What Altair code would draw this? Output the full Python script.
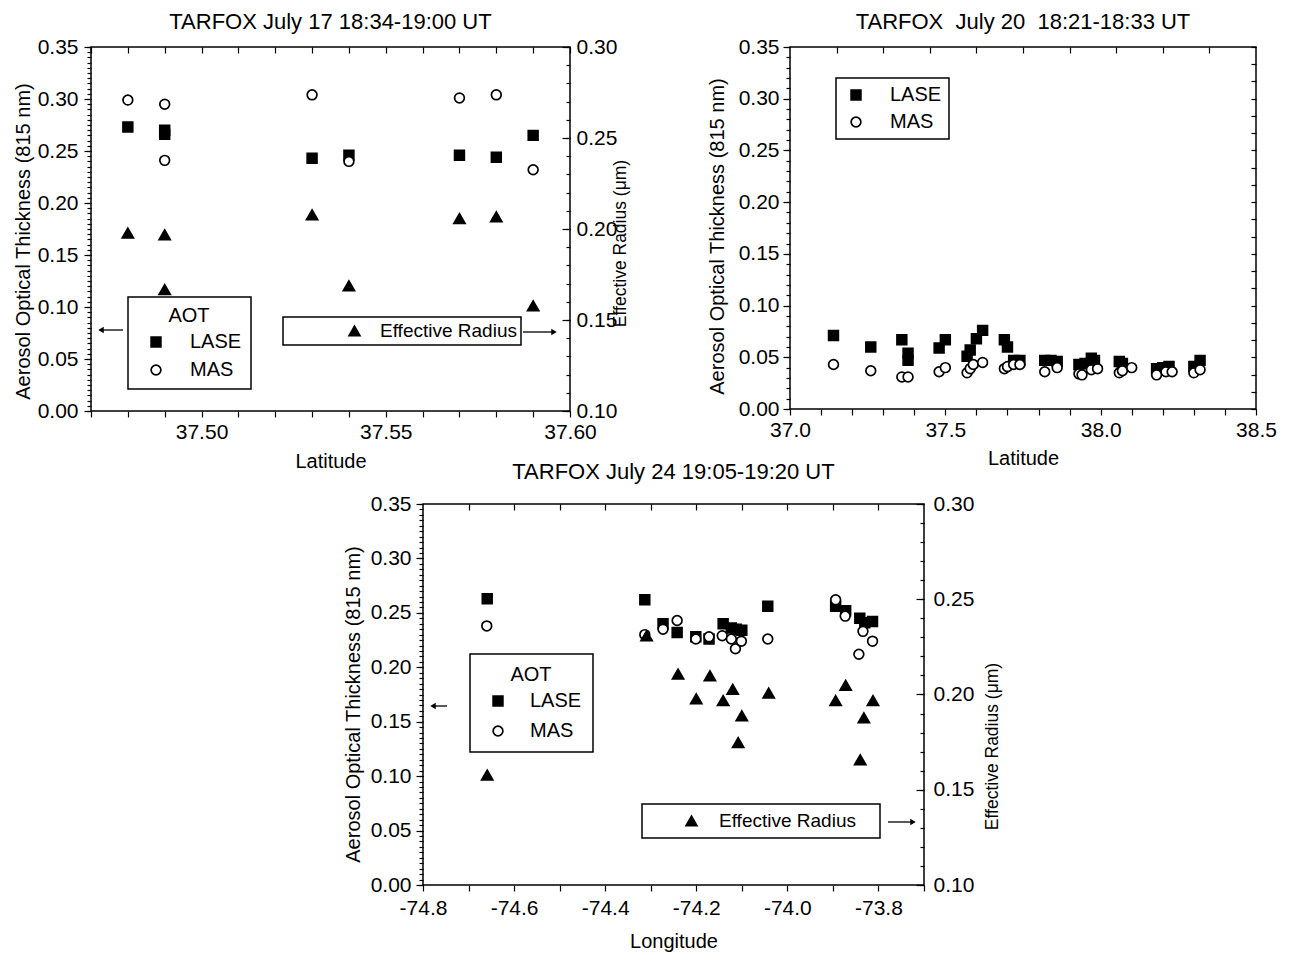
import altair as alt
import pandas as pd

FONT = "Liberation Sans"
MINUS = "\u2212"

# ---------------- TARFOX July 17 (latitude) ----------------
lat17_lase = [37.48, 37.49, 37.49, 37.53, 37.54, 37.57, 37.58, 37.59]
aot17_lase = [0.273, 0.270, 0.266, 0.243, 0.246, 0.246, 0.244, 0.265]
lat17_mas = [37.48, 37.49, 37.49, 37.53, 37.54, 37.57, 37.58, 37.59]
aot17_mas = [0.299, 0.295, 0.241, 0.304, 0.240, 0.301, 0.304, 0.232]
lat17_er = [37.48, 37.49, 37.49, 37.53, 37.54, 37.57, 37.58, 37.59]
er17 = [0.198, 0.197, 0.167, 0.208, 0.169, 0.206, 0.207, 0.158]

# ---------------- TARFOX July 20 (latitude) ----------------
lat20_lase = [37.14, 37.26, 37.36, 37.38, 37.38, 37.48, 37.50, 37.57, 37.58, 37.60,
              37.62, 37.69, 37.70, 37.72, 37.74, 37.82, 37.84, 37.86, 37.93, 37.95,
              37.97, 37.98, 38.06, 38.07, 38.18, 38.20, 38.22, 38.30, 38.32]
aot20_lase = [0.071, 0.060, 0.067, 0.054, 0.047, 0.059, 0.067, 0.051, 0.057, 0.068,
              0.076, 0.067, 0.060, 0.047, 0.047, 0.047, 0.047, 0.046, 0.043, 0.044,
              0.049, 0.047, 0.046, 0.044, 0.039, 0.040, 0.041, 0.041, 0.047]
lat20_mas = [37.14, 37.26, 37.36, 37.38, 37.48, 37.50, 37.57, 37.58, 37.59, 37.62,
             37.69, 37.70, 37.72, 37.74, 37.82, 37.86, 37.93, 37.94, 37.97, 37.99,
             38.06, 38.07, 38.10, 38.18, 38.21, 38.23, 38.30, 38.32]
aot20_mas = [0.043, 0.037, 0.031, 0.031, 0.036, 0.040, 0.035, 0.039, 0.043, 0.045,
             0.039, 0.041, 0.043, 0.043, 0.036, 0.040, 0.034, 0.033, 0.038, 0.039,
             0.035, 0.037, 0.040, 0.033, 0.036, 0.036, 0.035, 0.038]

# ---------------- TARFOX July 24 (longitude) ----------------
lon24_lase = [-74.659, -74.313, -74.273, -74.242, -74.201, -74.172, -74.141, -74.123,
              -74.112, -74.100, -74.043, -73.894, -73.872, -73.841, -73.830, -73.813]
aot24_lase = [0.263, 0.262, 0.240, 0.232, 0.228, 0.226, 0.240, 0.236,
              0.235, 0.234, 0.256, 0.256, 0.252, 0.245, 0.241, 0.242]
lon24_mas = [-74.660, -74.313, -74.273, -74.242, -74.201, -74.172, -74.143, -74.123,
             -74.114, -74.101, -74.043, -73.894, -73.873, -73.843, -73.834, -73.813]
aot24_mas = [0.238, 0.230, 0.235, 0.243, 0.226, 0.228, 0.229, 0.226,
             0.217, 0.224, 0.226, 0.262, 0.247, 0.212, 0.233, 0.224]
lon24_er = [-74.659, -74.309, -74.240, -74.200, -74.170, -74.141, -74.120, -74.100,
            -74.108, -74.041, -73.894, -73.872, -73.812, -73.832, -73.840]
er24 = [0.158, 0.231, 0.211, 0.198, 0.210, 0.197, 0.203, 0.189,
        0.175, 0.201, 0.197, 0.205, 0.197, 0.188, 0.166]

instruments = ["LASE", "MAS"]
er_label = "Effective Radius"
aot_title = "Aerosol Optical Thickness (815 nm)"
er_title = "Effective Radius (\u03bcm)"
NB = "\u00a0"


def ticks(start, stop, step):
    n = int(round((stop - start) / step))
    return [round(start + i * step, 5) for i in range(n + 1)]


def aot_frame(xs, ys_lase, xm, ys_mas):
    return pd.DataFrame({
        "x": xs + xm,
        "aot": ys_lase + ys_mas,
        "inst": ["LASE"] * len(xs) + ["MAS"] * len(xm),
    })


def er_frame(xs, ys):
    return pd.DataFrame({"x": xs, "er": ys, "lab": [er_label] * len(xs)})


def aot_legend(lx, ly, title, pad, symoff, rowpad, laboff):
    kw = dict(orient="none", legendX=lx, legendY=ly, strokeColor="black",
              padding=pad, symbolOffset=symoff, labelOffset=laboff, rowPadding=rowpad,
              symbolSize=95, symbolStrokeColor="black", symbolStrokeWidth=1.7,
              symbolFillColor=alt.ExprRef("datum.value == 'LASE' ? 'black' : 'white'"),
              labelFontSize=20, titleFontSize=20, titleAnchor="middle",
              titlePadding=6, direction="vertical")
    kw["title"] = title
    return alt.Legend(**kw)


def er_legend(lx, ly, pad, symoff, laboff, right_gap):
    kw = dict(orient="none", legendX=lx, legendY=ly, strokeColor="black",
              padding=pad, symbolOffset=symoff, labelOffset=laboff, labelLimit=400,
              symbolSize=190, symbolFillColor="black", symbolStrokeColor="black",
              labelFontSize=19)
    if right_gap > 0:
        # an invisible (white) title on the right widens the framed box
        kw.update(title=".", titleOrient="right", titleColor="white",
                  titlePadding=right_gap, titleFontSize=8)
    else:
        kw["title"] = None
    return alt.Legend(**kw)


def arrow(x1, x2, y, head_x, shape):
    base = alt.Chart(pd.DataFrame({"k": [0]}))
    line = base.mark_rule(color="black", strokeWidth=1.3).encode(
        x=alt.value(x1), x2=alt.value(x2), y=alt.value(y))
    head = base.mark_point(shape=shape, filled=True, size=40, color="black", opacity=1).encode(
        x=alt.value(head_x), y=alt.value(y))
    return [line, head]


def aot_points(df, xs, ys, xaxis, yaxis, legend):
    return alt.Chart(df).mark_point(filled=True, size=95, stroke="black",
                                    strokeWidth=1.7, opacity=1).encode(
        x=alt.X("x:Q", scale=xs, axis=xaxis),
        y=alt.Y("aot:Q", scale=ys, axis=yaxis),
        shape=alt.Shape("inst:N", scale=alt.Scale(domain=instruments, range=["square", "circle"]),
                        legend=legend),
        fill=alt.Fill("inst:N", scale=alt.Scale(domain=instruments, range=["black", "white"]),
                      legend=None),
    )


def er_points(df, xs, ys, yaxis, legend):
    return alt.Chart(df).mark_point(filled=True, size=200, color="black", opacity=1).encode(
        x=alt.X("x:Q", scale=xs, axis=None),
        y=alt.Y("er:Q", scale=ys, axis=yaxis),
        shape=alt.Shape("lab:N", scale=alt.Scale(domain=[er_label], range=["triangle-up"]),
                        legend=legend),
    )


def guide_layer(df, yfield, xs, ys, xaxis, yaxis):
    if xaxis is None:
        xenc = alt.X("x:Q", scale=xs, axis=None)
    else:
        xenc = alt.X("x:Q", scale=xs, axis=xaxis)
    return alt.Chart(df).mark_point(opacity=0).encode(
        x=xenc, y=alt.Y(yfield, scale=ys, axis=yaxis))


def minor_axis(orient, values, size, inward):
    kw = dict(orient=orient, values=values, tickSize=size, labels=False, domain=False,
              grid=False, title=None)
    if inward:
        kw["offset"] = -size
    return alt.Axis(**kw)


def panel_title(text, offset):
    return alt.TitleParams(text, fontSize=22, font=FONT, fontWeight="normal", offset=offset,
                           anchor="middle", frame="group", color="black")


aot_major_vals = ticks(0, 0.35, 0.05)
er_major_vals = ticks(0.10, 0.30, 0.05)
er_minor_vals = ticks(0.10, 0.30, 0.01)

# ======================= Panel A : July 17 =======================
WA, HA = 479, 364
xsA = alt.Scale(domain=[37.47, 37.60], nice=False, zero=False)
ysA = alt.Scale(domain=[0, 0.35], nice=False, zero=False)
esA = alt.Scale(domain=[0.10, 0.30], nice=False, zero=False)
dfA = aot_frame(lat17_lase, aot17_lase, lat17_mas, aot17_mas)
dfAe = er_frame(lat17_er, er17)

xA_bottom = alt.Axis(orient="bottom", values=ticks(37.47, 37.60, 0.01), tickSize=6,
                     labelPadding=4, labelFlush=False, labelOverlap=False,
                     labelExpr="abs(round(datum.value*100)) % 5 == 0 ? format(datum.value, '.2f') : ''",
                     title="Latitude", titlePadding=9, domain=False, grid=False)
yA_left = alt.Axis(orient="left", values=aot_major_vals, format=".2f", tickSize=7, labelPadding=6,
                   labelOverlap=False, title=aot_title, titlePadding=5, titleX=-58, titleY=194,
                   domain=False, grid=False)
yA_right = alt.Axis(orient="right", values=er_major_vals, format=".2f", tickSize=8, offset=-8,
                    labelPadding=6, labelOverlap=False, title=er_title, titleFontSize=17.5,
                    titleAngle=270, titleBaseline="top", titleX=49, titleY=196,
                    titlePadding=-6, domain=False, grid=False)

A_aot = alt.layer(
    aot_points(dfA, xsA, ysA, xA_bottom, yA_left, aot_legend(37, 250, "AOT", 9, 9, 8, 24)),
    guide_layer(dfA, "aot:Q", xsA, ysA, minor_axis("top", ticks(37.47, 37.60, 0.01), 6, True),
                minor_axis("left", ticks(0, 0.35, 0.005), 4, False)),
).resolve_axis(x="independent", y="independent")

A_er = alt.layer(
    er_points(dfAe, xsA, esA, yA_right, er_legend(192, 270, 4, 58, 16, 0)),
    guide_layer(dfAe, "er:Q", xsA, esA, None, minor_axis("right", er_minor_vals, 4, True)),
).resolve_axis(x="independent", y="independent")

A = alt.layer(
    A_aot, A_er,
    *arrow(9, 32, 283, 10, "triangle-left"),
    *arrow(432, 464, 285, 463, "triangle-right"),
).resolve_scale(y="independent", shape="independent").resolve_axis(
    x="independent", y="independent").resolve_legend(shape="independent").properties(
    width=WA, height=HA, title=panel_title("TARFOX July 17 18:34-19:00 UT", 2))

# ======================= Panel B : July 20 =======================
WB, HB = 466, 362
xsB = alt.Scale(domain=[37.0, 38.5], nice=False, zero=False)
ysB = alt.Scale(domain=[0, 0.35], nice=False, zero=False)
dfB = aot_frame(lat20_lase, aot20_lase, lat20_mas, aot20_mas)

xB_bottom = alt.Axis(orient="bottom", values=ticks(37.0, 38.5, 0.1), tickSize=6,
                     labelPadding=4, labelFlush=False, labelOverlap=False,
                     labelExpr="abs(round(datum.value*10)) % 5 == 0 ? format(datum.value, '.1f') : ''",
                     title="Latitude", titlePadding=8, domain=False, grid=False)
yB_left = alt.Axis(orient="left", values=aot_major_vals, format=".2f", tickSize=7, labelPadding=4,
                   labelOverlap=False, title=aot_title, titlePadding=11, titleX=-63, titleY=189,
                   domain=False, grid=False)

B = alt.layer(
    aot_points(dfB, xsB, ysB, xB_bottom, yB_left, aot_legend(46, 31, None, 7, 3, 7, 24)),
    guide_layer(dfB, "aot:Q", xsB, ysB, minor_axis("top", ticks(37.15, 38.35, 0.15), 6, True),
                minor_axis("left", ticks(0, 0.35, 0.01), 4, False)),
    guide_layer(dfB, "aot:Q", xsB, ysB, None,
                minor_axis("right", ticks(0, 0.35, 0.05 / 3), 5, True)),
).resolve_axis(x="independent", y="independent").properties(
    width=WB, height=HB,
    title=panel_title("TARFOX" + NB + " July 20" + NB + " 18:21-18:33 UT", 2))

# ======================= Panel C : July 24 =======================
WC, HC = 501, 381
xsC = alt.Scale(domain=[-74.8, -73.7], nice=False, zero=False)
ysC = alt.Scale(domain=[0, 0.35], nice=False, zero=False)
esC = alt.Scale(domain=[0.10, 0.30], nice=False, zero=False)
dfC = aot_frame(lon24_lase, aot24_lase, lon24_mas, aot24_mas)
dfCe = er_frame(lon24_er, er24)

xC_bottom = alt.Axis(orient="bottom", values=ticks(-74.8, -73.7, 0.1), tickSize=6,
                     labelPadding=6, labelFlush=False, labelOverlap=False,
                     labelExpr="abs(round(datum.value*10)) % 2 == 0 ? replace(format(datum.value, '.1f'), '"
                               + MINUS + "', '-') : ''",
                     title="Longitude", titlePadding=13, domain=False, grid=False)
yC_left = alt.Axis(orient="left", values=aot_major_vals, format=".2f", tickSize=7, labelPadding=5,
                   labelOverlap=False, title=aot_title, titlePadding=6, titleX=-60, titleY=200,
                   domain=False, grid=False)
yC_right = alt.Axis(orient="right", values=er_major_vals, format=".2f", tickSize=8, offset=-8,
                    labelPadding=9, labelOverlap=False, title=er_title, titleFontSize=17.5,
                    titleAngle=270, titleBaseline="top", titleX=67, titleY=242,
                    titlePadding=12, domain=False, grid=False)

C_aot = alt.layer(
    aot_points(dfC, xsC, ysC, xC_bottom, yC_left, aot_legend(47, 150, "AOT", 11, 7, 10, 22)),
    guide_layer(dfC, "aot:Q", xsC, ysC, minor_axis("top", ticks(-74.7, -73.8, 0.1), 6, True),
                minor_axis("left", ticks(0, 0.35, 0.005), 4, False)),
).resolve_axis(x="independent", y="independent")

C_er = alt.layer(
    er_points(dfCe, xsC, esC, yC_right, er_legend(219, 300, 7, 33, 18, 14)),
    guide_layer(dfCe, "er:Q", xsC, esC, None, minor_axis("right", er_minor_vals, 4, True)),
).resolve_axis(x="independent", y="independent")

C = alt.layer(
    C_aot, C_er,
    *arrow(9, 24, 202, 10, "triangle-left"),
    *arrow(465, 491, 318, 490, "triangle-right"),
).resolve_scale(y="independent", shape="independent").resolve_axis(
    x="independent", y="independent").resolve_legend(shape="independent").properties(
    width=WC, height=HC, title=panel_title("TARFOX July 24 19:05-19:20 UT", 9))

spacer = alt.Chart(pd.DataFrame({"k": [0]})).mark_point(opacity=0).properties(
    width=250, height=20, view=alt.ViewBackground(stroke="transparent"))

top_row = alt.hconcat(A, B, spacing=76).resolve_scale(
    shape="independent", fill="independent").resolve_legend(shape="independent", fill="independent")
bottom_row = alt.hconcat(spacer, C, spacing=0).resolve_scale(
    shape="independent", fill="independent").resolve_legend(shape="independent", fill="independent")

chart = alt.vconcat(top_row, bottom_row, spacing=-12).resolve_scale(
    shape="independent", fill="independent").resolve_legend(
    shape="independent", fill="independent").properties(
    padding={"left": 12, "top": 10, "right": 5, "bottom": 5},
    background="white",
).configure_view(
    stroke="black", strokeWidth=1.5,
).configure_axis(
    labelFont=FONT, titleFont=FONT, labelFontSize=21, titleFontSize=20,
    labelColor="black", titleColor="black", tickColor="black", tickWidth=1.2,
    titleFontWeight="normal",
).configure_legend(
    labelFont=FONT, titleFont=FONT, labelColor="black", titleColor="black",
    titleFontWeight="normal", strokeWidth=1.5,
)

chart.save("out.html", embed_options={"renderer": "svg", "actions": False})
